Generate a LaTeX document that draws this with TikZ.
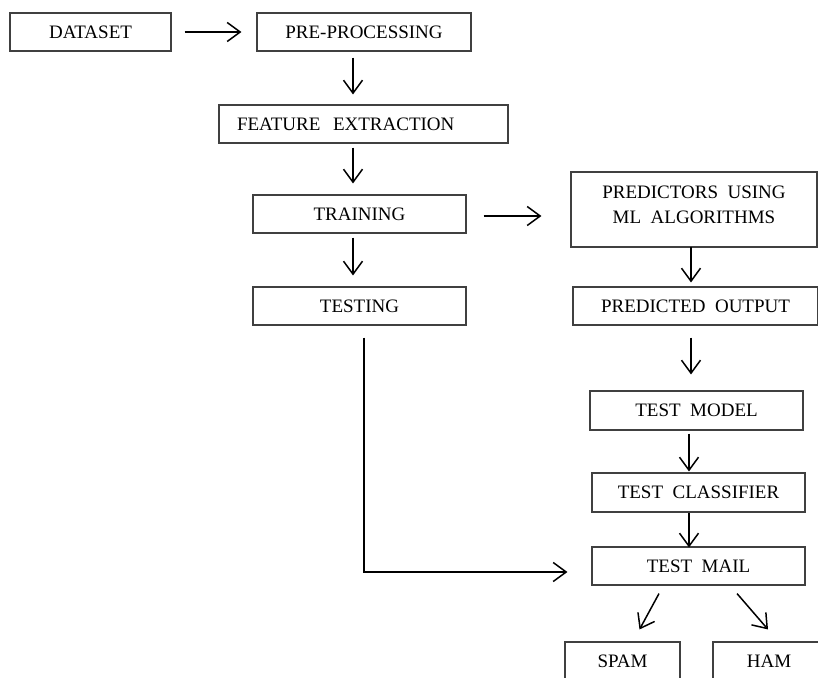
\documentclass[tikz,border=0pt]{standalone}
\usepackage{fontspec}
\setmainfont{Liberation Serif}
\usetikzlibrary{arrows.meta}
\tikzset{
  box/.style={draw=black!75, line width=1.1pt, fill=white, inner sep=0pt,
    font=\fontsize{19}{25}\selectfont, text=black},
  conn/.style={line width=1.5pt, -{Straight Barb[length=13pt,width=19pt,line width=1.5pt]}},
  plain/.style={line width=1.5pt}
}
\begin{document}
\begin{tikzpicture}[x=1pt,y=-1pt]
\useasboundingbox (0,0) rectangle (818,677);
\clip (0,0) rectangle (818,677);
% nodes
\node[box, minimum width=161pt, minimum height=38pt] (dataset) at (90.5,32) {DATASET};
\node[box, minimum width=214pt, minimum height=38pt] (pre) at (364,32) {PRE-PROCESSING};
\node[box, minimum height=38pt, text width=253pt, inner xsep=18pt, align=left] (feat) at (363.5,124) {FEATURE\ \ EXTRACTION};
\node[box, minimum width=213pt, minimum height=38pt] (train) at (359.5,214) {TRAINING};
\node[box, minimum width=213pt, minimum height=38pt] (test) at (359.5,306) {TESTING};
\node[box, minimum width=246pt, minimum height=75pt, align=center] (pred) at (694,209.5) {\raisebox{4pt}[\height][\depth]{\begin{tabular}{@{}c@{}}PREDICTORS\ \ USING\\[0pt]ML\ \ ALGORITHMS\end{tabular}}};
\node[box, minimum width=245pt, minimum height=38pt] (pout) at (695.5,306) {PREDICTED\ \ OUTPUT};
\node[box, minimum width=213pt, minimum height=39pt] (tmodel) at (696.5,410.5) {TEST\ \ MODEL};
\node[box, minimum width=213pt, minimum height=39pt] (tclass) at (698.5,492.5) {TEST\ \ CLASSIFIER};
\node[box, minimum width=213pt, minimum height=38pt] (tmail) at (698.5,566) {TEST\ \ MAIL};
\node[box, minimum width=115pt, minimum height=38pt] (spam) at (622.5,661) {SPAM};
\node[box, minimum width=112pt, minimum height=38pt] (ham) at (769,661) {HAM};
% connectors
\draw[conn, shorten <=13pt, shorten >=15pt] (dataset.east) -- (pre.west);
\draw[conn, shorten <=6pt, shorten >=10pt] ([xshift=-11pt]pre.south) -- ([xshift=-11pt]pre.south |- feat.north);
\draw[conn, shorten <=4pt, shorten >=11pt] ([xshift=-10.5pt]feat.south) -- ([xshift=-10.5pt]feat.south |- train.north);
\draw[conn, shorten <=4pt, shorten >=11pt] ([xshift=-6.5pt]train.south) -- ([xshift=-6.5pt]train.south |- test.north);
\draw[conn, shorten <=17pt, shorten >=29pt] ([yshift=-2pt]train.east) -- ([yshift=-2pt]train.east -| pred.west);
\draw[conn, shorten <=-1pt, shorten >=4pt] ([xshift=-3pt]pred.south) -- ([xshift=-3pt]pred.south |- pout.north);
\draw[conn, shorten <=12pt, shorten >=16pt] ([xshift=-4.5pt]pout.south) -- ([xshift=-4.5pt]pout.south |- tmodel.north);
\draw[conn, shorten <=3pt, shorten >=1pt] ([xshift=-7.5pt]tmodel.south) -- ([xshift=-7.5pt]tmodel.south |- tclass.north);
\draw[conn, shorten >=-1pt] ([xshift=-9.5pt]tclass.south) -- ([xshift=-9.5pt]tclass.south |- tmail.north);
\draw[conn, shorten >=24pt] ([xshift=4.5pt,yshift=-12pt]test.south) |- ([yshift=-6pt]tmail.west);
\draw[conn] ([xshift=-39.5pt,yshift=-8pt]tmail.south) -- ([xshift=17pt,yshift=12pt]spam.north);
\draw[conn] ([xshift=38.5pt,yshift=-8pt]tmail.south) -- ([xshift=-1pt,yshift=12pt]ham.north);
\end{tikzpicture}
\end{document}
